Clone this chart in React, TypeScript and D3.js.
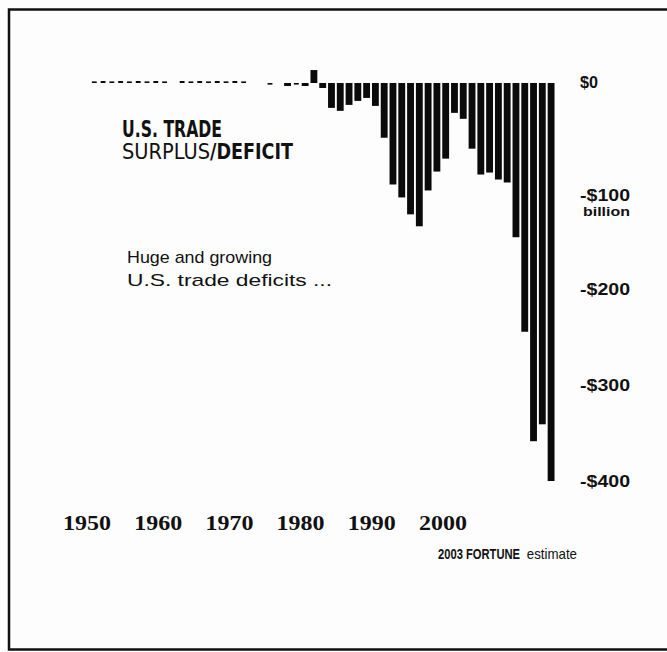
import React from "react";
import * as d3 from "d3";

// ---- data ----
const years: number[] = d3.range(1950, 2004);
const balance: number[] = [
  0, 1.5, 2, 1.5, 2, 1.5, 2, 1.5, 2, 1.5, // 1950-1959
  0, 2, 1.5, 2, 1.5, 2, 1.5, 2, 1.5, 0, // 1960-1969
  0, -1.5, 0, -3, -1.5, -3, 13, -5, -25, -28, // 1970-1979
  -22, -18, -15, -23, -55, -102, -115, -132, -144, -108, // 1980-1989
  -89, -76, -30, -36, -66, -92, -90, -97, -100, -155, // 1990-1999
  -250, -360, -343, -400, // 2000-2003
];
const xTickYears = [1950, 1960, 1970, 1980, 1990, 2000];
const yTickValues = [0, -100, -200, -300, -400];
const yTickLabels = ["$0", "-$100", "-$200", "-$300", "-$400"];

const W = 667;
const H = 652;

export default function App() {
  const x = d3
    .scaleBand<number>()
    .domain(years)
    .range([81.2, 555.4])
    .paddingInner(0.22)
    .paddingOuter(0.1);
  const y = d3.scaleLinear().domain([0, -400]).range([83, 481]);
  const xLabel = d3.scaleLinear().domain([1950, 2000]).range([87, 443]);
  const yLabel = d3
    .scaleLinear()
    .domain(yTickValues)
    .range([83, 196, 290, 386, 482]);

  const condensed = "'Liberation Sans Narrow', 'DejaVu Sans Condensed', 'DejaVu Sans', sans-serif";
  const sans = "'Liberation Sans', Arial, sans-serif";
  const serif = "'Liberation Serif', 'DejaVu Serif', serif";

  return (
    <svg
      width={W}
      height={H}
      style={{ position: "absolute", left: 0, top: 0, background: "#fdfdfd" }}
    >
      <rect x={0} y={0} width={W} height={H} fill="#fdfdfd" />
      <rect
        x={9}
        y={9.5}
        width={700}
        height={640}
        fill="none"
        stroke="#111"
        strokeWidth={2.5}
      />

      {/* bars */}
      <g fill="#0a0a0a">
        {years.map((yr, i) => {
          const v = balance[i];
          if (v === 0) return null;
          const y0 = y(0);
          const y1 = y(v);
          const top = Math.min(y0, y1);
          const h = Math.max(1.6, Math.abs(y1 - y0));
          const small = Math.abs(v) < 2.5;
          return (
            <rect
              key={yr}
              x={(x(yr) as number) + (small ? 1 : 0)}
              y={v > 0 ? y0 - h : top}
              width={x.bandwidth() - (small ? 2 : 0)}
              height={h}
            />
          );
        })}
      </g>

      {/* title block */}
      <text
        x={122}
        y={137}
        fontFamily={condensed}
        fontWeight="bold"
        fontSize={23}
        textLength={100}
        lengthAdjust="spacingAndGlyphs"
        fill="#111"
      >
        U.S. TRADE
      </text>
      <text
        x={122}
        y={159}
        fontFamily={condensed}
        fontSize={21}
        textLength={88}
        lengthAdjust="spacingAndGlyphs"
        fill="#111"
      >
        SURPLUS
      </text>
      <text
        x={210}
        y={159}
        fontFamily={condensed}
        fontWeight="bold"
        fontSize={21}
        textLength={83}
        lengthAdjust="spacingAndGlyphs"
        fill="#111"
      >
        /DEFICIT
      </text>

      <text
        x={127}
        y={263}
        fontFamily={sans}
        fontSize={17}
        textLength={145}
        lengthAdjust="spacingAndGlyphs"
        fill="#111"
      >
        Huge and growing
      </text>
      <text
        x={127}
        y={286}
        fontFamily={sans}
        fontSize={17}
        textLength={205}
        lengthAdjust="spacingAndGlyphs"
        fill="#111"
      >
        U.S. trade deficits ...
      </text>

      {/* x tick labels */}
      {xTickYears.map((yr) => (
        <text
          key={yr}
          x={xLabel(yr)}
          y={530}
          textAnchor="middle"
          fontFamily={serif}
          fontWeight="bold"
          fontSize={21}
          textLength={48}
          lengthAdjust="spacingAndGlyphs"
          fill="#111"
        >
          {yr}
        </text>
      ))}

      <g transform="translate(438,559) scale(0.8,1)">
        <text x={0} y={0} fontFamily={sans} fontWeight="bold" fontSize={14} fill="#111">
          2003 FORTUNE
        </text>
      </g>
      <g transform="translate(577,559) scale(0.95,1)">
        <text x={0} y={0} textAnchor="end" fontFamily={sans} fontSize={14} fill="#111">
          estimate
        </text>
      </g>

      {/* y tick labels */}
      {yTickValues.map((v, i) => (
        <text
          key={v}
          x={580}
          y={yLabel(v) + 5}
          fontFamily={sans}
          fontWeight="bold"
          fontSize={16}
          textLength={i === 0 ? 18 : 50}
          lengthAdjust="spacingAndGlyphs"
          fill="#111"
        >
          {yTickLabels[i]}
        </text>
      ))}
      <text
        x={583}
        y={yLabel(-100) + 20}
        fontFamily={sans}
        fontWeight="bold"
        fontSize={13.5}
        textLength={47}
        lengthAdjust="spacingAndGlyphs"
        fill="#111"
      >
        billion
      </text>
    </svg>
  );
}
